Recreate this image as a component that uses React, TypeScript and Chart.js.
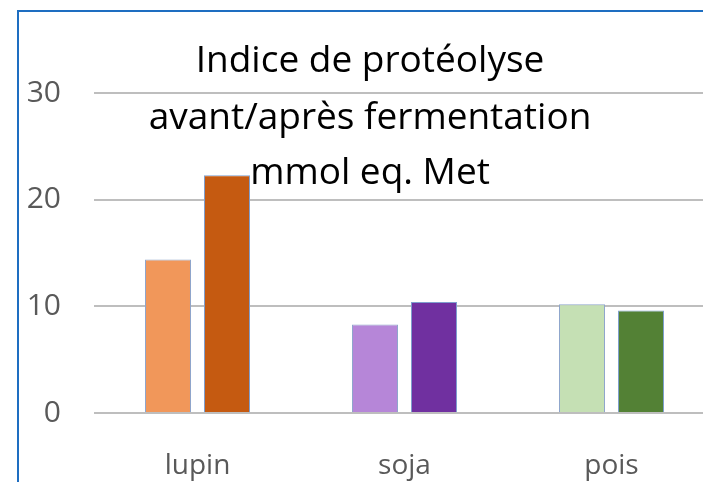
import React, { useEffect, useRef } from "react";
import { Chart, registerables } from "chart.js";

Chart.register(...registerables);

const categories = ["lupin", "soja", "pois"];
const avantValues = [14.4, 8.3, 10.2];
const apresValues = [22.3, 10.4, 9.6];
const avantColors = ["#F1975A", "#B686D8", "#C5E0B4"];
const apresColors = ["#C55A11", "#7030A0", "#538135"];
const titleLines = ["Indice de protéolyse", "avant/après fermentation", "mmol eq. Met"];
const yTicks = [0, 10, 20, 30];

const overlayPlugin = {
  id: "overlay",
  afterDatasetsDraw(chart: any) {
    const ctx = chart.ctx;
    ctx.save();
    ctx.fillStyle = "#000000";
    ctx.font = '37px "Open Sans"';
    ctx.textAlign = "center";
    ctx.textBaseline = "alphabetic";
    const baselines = [72, 129, 184];
    titleLines.forEach((t, i) => ctx.fillText(t, 370, baselines[i]));
    ctx.restore();
  },
  afterDraw(chart: any) {
    const ctx = chart.ctx;
    ctx.save();
    ctx.fillStyle = "#1E6EC1";
    ctx.fillRect(17, 10, 2, 480);
    ctx.fillRect(17, 10, 720, 2);
    ctx.restore();
  },
};

export default function App() {
  const ref = useRef<HTMLCanvasElement>(null);
  useEffect(() => {
    if (!ref.current) return;
    const chart = new Chart(ref.current, {
      type: "bar",
      data: {
        labels: categories,
        datasets: [
          {
            label: "avant",
            data: avantValues,
            backgroundColor: avantColors,
            borderColor: "#8FA6CC",
            borderWidth: 1,
            categoryPercentage: 0.57,
            barPercentage: 0.78,
          },
          {
            label: "après",
            data: apresValues,
            backgroundColor: apresColors,
            borderColor: "#7F9FCF",
            borderWidth: 1,
            categoryPercentage: 0.57,
            barPercentage: 0.78,
          },
        ],
      },
      options: {
        responsive: false,
        animation: false,
        devicePixelRatio: 1,
        layout: { padding: { top: 93, right: 5, bottom: 0, left: 0 } },
        plugins: { legend: { display: false }, title: { display: false }, tooltip: { enabled: false } },
        scales: {
          x: {
            grid: { display: false },
            border: { display: false },
            ticks: { color: "#595959", font: { family: "Open Sans", size: 28 }, padding: 28 },
            afterFit(scale: any) {
              scale.height = 69;
            },
          },
          y: {
            min: 0,
            max: 30,
            afterBuildTicks(scale: any) {
              scale.ticks = yTicks.map((v) => ({ value: v }));
            },
            grid: { color: "#BEBEBE", lineWidth: 2, drawTicks: false },
            border: { display: false },
            ticks: { color: "#595959", font: { family: "Open Sans", size: 30 }, padding: 33 },
            afterFit(scale: any) {
              scale.width = 94;
            },
          },
        },
      },
      plugins: [overlayPlugin],
    });
    return () => chart.destroy();
  }, []);
  return (
    <div style={{ position: "fixed", left: 0, top: 0, width: 703, height: 482, overflow: "hidden", background: "#fff" }}>
      <canvas ref={ref} width={720} height={482} style={{ width: 720, height: 482, display: "block" }} />
    </div>
  );
}
